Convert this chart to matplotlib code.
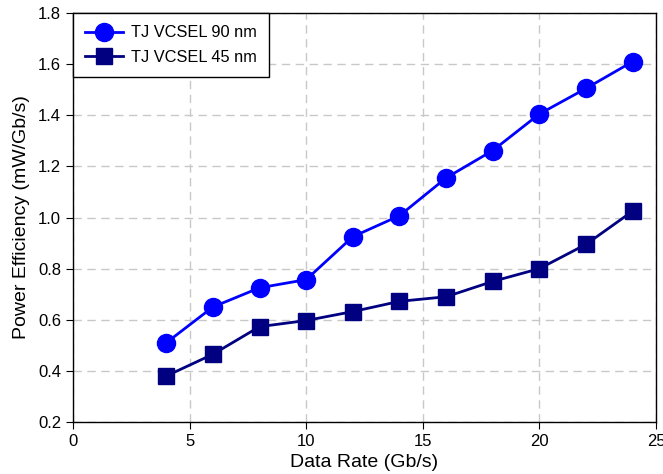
import matplotlib
matplotlib.use("Agg")
import matplotlib.pyplot as plt

plt.rcParams['font.family'] = ['Liberation Sans', 'DejaVu Sans']

rate = [4, 6, 8, 10, 12, 14, 16, 18, 20, 22, 24]
eff_90 = [0.51, 0.65, 0.725, 0.757, 0.925, 1.007, 1.155, 1.262, 1.405, 1.505, 1.61]
eff_45 = [0.38, 0.465, 0.573, 0.597, 0.632, 0.672, 0.69, 0.75, 0.80, 0.895, 1.025]

fig = plt.figure(figsize=(6.63, 4.74), dpi=100)
ax = fig.add_axes([73/663, 1 - 422/474, (656 - 73)/663, (422 - 13)/474])

ax.plot(rate, eff_90, '-o', color='#0000ff', lw=2, markersize=13, label='TJ VCSEL 90 nm', zorder=3)
ax.plot(rate, eff_45, '-s', color='#000080', lw=2, markersize=11, label='TJ VCSEL 45 nm', zorder=3)

ax.set_xlim(0, 25)
ax.set_ylim(0.2, 1.8)
ax.set_xticks([0, 5, 10, 15, 20, 25])
ax.set_yticks([0.2, 0.4, 0.6, 0.8, 1.0, 1.2, 1.4, 1.6, 1.8])
ax.yaxis.set_major_formatter(matplotlib.ticker.FormatStrFormatter('%.1f'))
ax.grid(True, color='#c8c8c8', linestyle=(0, (6, 4)), lw=1)
ax.tick_params(direction='out', length=5, labelsize=12, top=False, right=False)
for s in ax.spines.values():
    s.set_linewidth(1)

ax.set_xlabel('Data Rate (Gb/s)', fontsize=14, labelpad=4)
ax.set_ylabel('Power Efficiency (mW/Gb/s)', fontsize=14, labelpad=6)

leg = ax.legend(loc='upper left', borderaxespad=0, fancybox=False, framealpha=1,
                edgecolor='black', fontsize=11.8, handlelength=2.3, handletextpad=0.5,
                borderpad=0.75, labelspacing=0.6)
leg.get_frame().set_linewidth(1)

fig.savefig('out.png', dpi=100)
